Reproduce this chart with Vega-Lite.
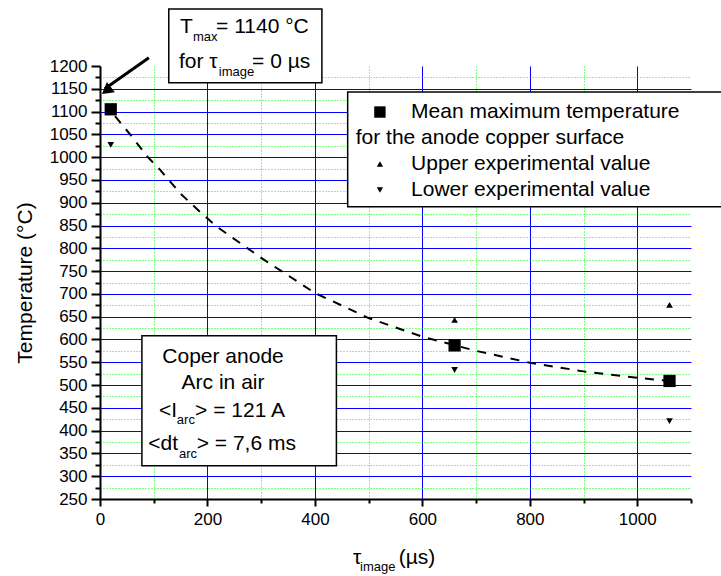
{
  "$schema": "https://vega.github.io/schema/vega-lite/v6.json",
  "autosize": "none",
  "width": 591,
  "height": 433,
  "padding": {"left": 100, "top": 66, "right": 30, "bottom": 77},
  "background": "white",
  "config": {
    "view": {"stroke": null},
    "font": "Liberation Sans"
  },
  "datasets": {
    "mean": [{"t": 20, "T": 1105}, {"t": 660, "T": 587}, {"t": 1060, "T": 509}],
    "upper": [{"t": 660, "T": 643}, {"t": 1060, "T": 676}],
    "lower": [{"t": 20, "T": 1027}, {"t": 660, "T": 533}, {"t": 1060, "T": 421}],
    "fit": [
      {"t": 28, "T": 1090}, {"t": 56, "T": 1050}, {"t": 89, "T": 1000}, {"t": 112, "T": 972},
      {"t": 149, "T": 921}, {"t": 186, "T": 880}, {"t": 218, "T": 847}, {"t": 300, "T": 779},
      {"t": 400, "T": 702}, {"t": 500, "T": 647}, {"t": 600, "T": 606}, {"t": 700, "T": 575},
      {"t": 800, "T": 549}, {"t": 900, "T": 530}, {"t": 1000, "T": 516}, {"t": 1060, "T": 509}
    ],
    "arrow": [{"t": 91, "T": 1218, "t2": 9, "T2": 1150}],
    "arrowhead": [{"t": 12, "T": 1146}],
    "boxes": [
      {"t": 128, "t2": 413, "T": 1325, "T2": 1163},
      {"t": 78, "t2": 440, "T": 608, "T2": 323},
      {"t": 461, "t2": 1180, "T": 1143, "T2": 891}
    ],
    "legSquare": [{"t": 521, "T": 1099}],
    "legUp": [{"t": 521, "T": 985}],
    "legDown": [{"t": 521, "T": 928}],
    "textLeft": [
      {"t": 149, "T": 1285, "label": "T"},
      {"t": 216, "T": 1285, "label": "= 1140 °C"},
      {"t": 147, "T": 1209, "label": "for τ"},
      {"t": 283, "T": 1209, "label": "= 0 µs"},
      {"t": 110, "T": 443, "label": "<I"},
      {"t": 177, "T": 443, "label": "> = 121 A"},
      {"t": 90, "T": 371, "label": "<dt"},
      {"t": 180, "T": 371, "label": "> = 7,6 ms"},
      {"t": 579, "T": 1099, "label": "Mean maximum temperature"},
      {"t": 476, "T": 1042, "label": "for the anode copper surface"},
      {"t": 579, "T": 985, "label": "Upper experimental value"},
      {"t": 579, "T": 928, "label": "Lower experimental value"},
      {"t": 471, "T": 121, "label": "τ"},
      {"t": 556, "T": 121, "label": "(µs)"}
    ],
    "textCenter": [
      {"t": 229, "T": 562, "label": "Coper anode"},
      {"t": 229, "T": 505, "label": "Arc in air"}
    ],
    "textSub": [
      {"t": 173, "T": 1264, "label": "max"},
      {"t": 221, "T": 1187, "label": "image"},
      {"t": 143, "T": 424, "label": "arc"},
      {"t": 147, "T": 349, "label": "arc"},
      {"t": 484, "T": 101, "label": "image"}
    ]
  },
  "layer": [
    {
      "data": {"name": "fit"},
      "mark": {"type": "line", "color": "black", "strokeWidth": 2, "strokeDash": [9, 8]},
      "encoding": {
        "x": {
          "field": "t", "type": "quantitative",
          "scale": {"domain": [0, 1100], "nice": false, "zero": false},
          "axis": {
            "values": [0, 100, 200, 300, 400, 500, 600, 700, 800, 900, 1000, 1100],
            "tickCount": 100,
            "format": "d",
            "labelExpr": "datum.value % 200 === 0 ? datum.label : ''",
            "title": null,
            "labelFlush": false,
            "labelOverlap": false,
            "labelFont": "Liberation Sans",
            "labelFontSize": 17,
            "labelColor": "black",
            "labelPadding": 5,
            "domainColor": "black",
            "domainWidth": 2,
            "tickColor": "black",
            "tickWidth": 2,
            "tickSize": {"condition": {"test": "datum.value % 200 === 0", "value": 7}, "value": 4},
            "grid": true,
            "gridWidth": 1,
            "gridColor": {"condition": {"test": "datum.value % 200 === 0", "value": "#0000ff"}, "value": "#00ff00"},
            "gridDash": {"condition": {"test": "datum.value % 200 === 0", "value": []}, "value": [1, 2]},
            "gridOpacity": {"condition": {"test": "datum.value === 0 || datum.value >= 1100", "value": 0}, "value": 1}
          }
        },
        "y": {
          "field": "T", "type": "quantitative",
          "scale": {"domain": [250, 1200], "nice": false, "zero": false},
          "axis": {
            "values": [250, 275, 300, 325, 350, 375, 400, 425, 450, 475, 500, 525, 550, 575, 600, 625, 650, 675, 700, 725, 750, 775, 800, 825, 850, 875, 900, 925, 950, 975, 1000, 1025, 1050, 1075, 1100, 1125, 1150, 1175, 1200],
            "tickCount": 100,
            "format": "d",
            "labelExpr": "datum.value % 50 === 0 ? datum.label : ''",
            "title": "Temperature (°C)",
            "titleFont": "Liberation Sans",
            "titleFontSize": 21,
            "titleFontWeight": "normal",
            "titleColor": "black",
            "titlePadding": 14,
            "labelFlush": false,
            "labelOverlap": false,
            "labelFont": "Liberation Sans",
            "labelFontSize": 17,
            "labelColor": "black",
            "labelPadding": 4,
            "domainColor": "black",
            "domainWidth": 2,
            "tickColor": "black",
            "tickWidth": 2,
            "tickSize": {"condition": {"test": "datum.value % 50 === 0", "value": 9}, "value": 5},
            "grid": true,
            "gridWidth": 1,
            "gridColor": {"condition": {"test": "datum.value % 50 === 0", "value": "#0000ff"}, "value": "#00ff00"},
            "gridDash": {"condition": {"test": "datum.value % 50 === 0", "value": []}, "value": [1, 2]},
            "gridOpacity": {"condition": {"test": "datum.value <= 250 || datum.value >= 1200", "value": 0}, "value": 1}
          }
        }
      }
    },
    {
      "data": {"name": "mean"},
      "mark": {"type": "point", "shape": "square", "filled": true, "color": "black", "size": 150, "opacity": 1},
      "encoding": {"x": {"field": "t", "type": "quantitative"}, "y": {"field": "T", "type": "quantitative"}}
    },
    {
      "data": {"name": "upper"},
      "mark": {"type": "point", "shape": "triangle-up", "filled": true, "color": "black", "size": 45, "opacity": 1},
      "encoding": {"x": {"field": "t", "type": "quantitative"}, "y": {"field": "T", "type": "quantitative"}}
    },
    {
      "data": {"name": "lower"},
      "mark": {"type": "point", "shape": "triangle-down", "filled": true, "color": "black", "size": 45, "opacity": 1},
      "encoding": {"x": {"field": "t", "type": "quantitative"}, "y": {"field": "T", "type": "quantitative"}}
    },
    {
      "data": {"name": "arrow"},
      "mark": {"type": "rule", "color": "black", "strokeWidth": 3},
      "encoding": {
        "x": {"field": "t", "type": "quantitative"}, "y": {"field": "T", "type": "quantitative"},
        "x2": {"field": "t2"}, "y2": {"field": "T2"}
      }
    },
    {
      "data": {"name": "arrowhead"},
      "mark": {"type": "point", "shape": "triangle-up", "filled": true, "color": "black", "size": 170, "angle": 232, "opacity": 1},
      "encoding": {"x": {"field": "t", "type": "quantitative"}, "y": {"field": "T", "type": "quantitative"}}
    },
    {
      "data": {"name": "boxes"},
      "mark": {"type": "rect", "fill": "white", "stroke": "black", "strokeWidth": 1.5},
      "encoding": {
        "x": {"field": "t", "type": "quantitative"}, "y": {"field": "T", "type": "quantitative"},
        "x2": {"field": "t2"}, "y2": {"field": "T2"}
      }
    },
    {
      "data": {"name": "legSquare"},
      "mark": {"type": "point", "shape": "square", "filled": true, "color": "black", "size": 130, "opacity": 1},
      "encoding": {"x": {"field": "t", "type": "quantitative"}, "y": {"field": "T", "type": "quantitative"}}
    },
    {
      "data": {"name": "legUp"},
      "mark": {"type": "point", "shape": "triangle-up", "filled": true, "color": "black", "size": 40, "opacity": 1},
      "encoding": {"x": {"field": "t", "type": "quantitative"}, "y": {"field": "T", "type": "quantitative"}}
    },
    {
      "data": {"name": "legDown"},
      "mark": {"type": "point", "shape": "triangle-down", "filled": true, "color": "black", "size": 40, "opacity": 1},
      "encoding": {"x": {"field": "t", "type": "quantitative"}, "y": {"field": "T", "type": "quantitative"}}
    },
    {
      "data": {"name": "textLeft"},
      "mark": {"type": "text", "align": "left", "baseline": "middle", "font": "Liberation Sans", "fontSize": 21, "color": "black"},
      "encoding": {"x": {"field": "t", "type": "quantitative"}, "y": {"field": "T", "type": "quantitative"}, "text": {"field": "label"}}
    },
    {
      "data": {"name": "textCenter"},
      "mark": {"type": "text", "align": "center", "baseline": "middle", "font": "Liberation Sans", "fontSize": 21, "color": "black"},
      "encoding": {"x": {"field": "t", "type": "quantitative"}, "y": {"field": "T", "type": "quantitative"}, "text": {"field": "label"}}
    },
    {
      "data": {"name": "textSub"},
      "mark": {"type": "text", "align": "left", "baseline": "middle", "font": "Liberation Sans", "fontSize": 13, "color": "black"},
      "encoding": {"x": {"field": "t", "type": "quantitative"}, "y": {"field": "T", "type": "quantitative"}, "text": {"field": "label"}}
    }
  ]
}
